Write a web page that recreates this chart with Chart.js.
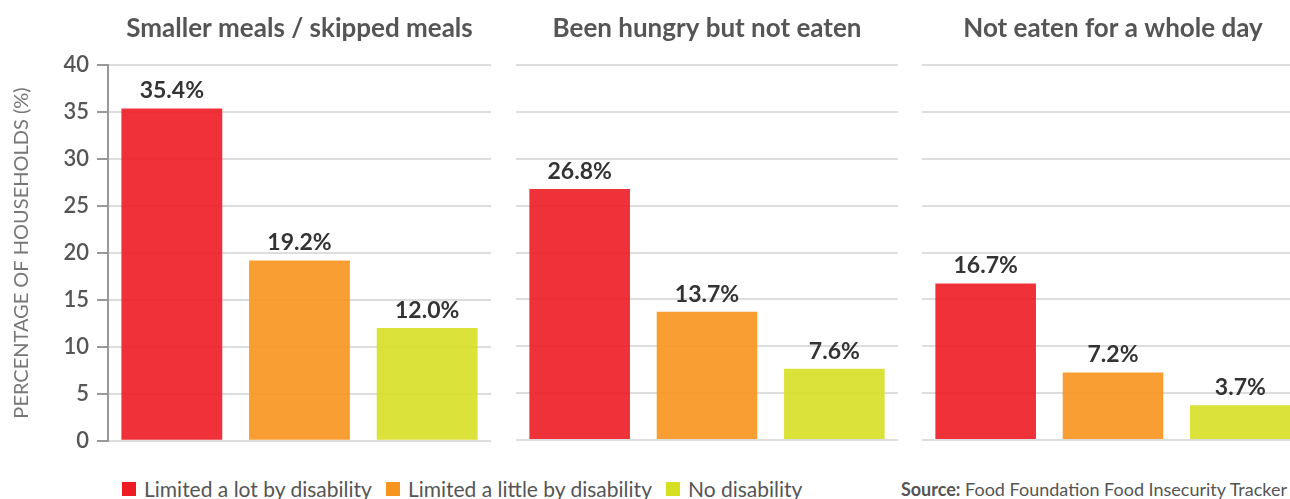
<!DOCTYPE html>
<html>
<head>
<meta charset="utf-8">
<script src="https://cdn.jsdelivr.net/npm/chart.js@4"></script>
<style>
  html, body { margin: 0; padding: 0; background: #fff; }
  body { width: 1290px; height: 499px; position: relative; overflow: hidden; font-family: Lato, sans-serif; }
  .panel { position: absolute; top: 0; height: 450px; }
  #legend { position: absolute; left: 122px; top: 476px; display: flex; gap: 14px; font-size: 21px; color: #555; }
  #legend span.item { display: flex; align-items: center; }
  #legend i { display: inline-block; width: 14px; height: 14px; margin-right: 8px; }
  #source { position: absolute; right: 3px; top: 478px; font-size: 18px; color: #555; }
</style>
</head>
<body>
<div class="panel" style="left:0;width:491px;height:462px"><canvas id="c0"></canvas></div>
<div class="panel" style="left:516px;width:382px"><canvas id="c1"></canvas></div>
<div class="panel" style="left:922px;width:382px"><canvas id="c2"></canvas></div>
<div id="legend"></div>
<div id="source"><b>Source:</b> Food Foundation Food Insecurity Tracker</div>
<script>
const panels = ["Smaller meals / skipped meals", "Been hungry but not eaten", "Not eaten for a whole day"];
const groups = ["Limited a lot by disability", "Limited a little by disability", "No disability"];
const limitedLot = [35.4, 26.8, 16.7];
const limitedLittle = [19.2, 13.7, 7.2];
const noDisability = [12.0, 7.6, 3.7];
const yTicks = [0, 5, 10, 15, 20, 25, 30, 35, 40];

const seriesValues = [limitedLot, limitedLittle, noDisability];
const barColors = ["rgba(237,28,36,0.9)", "rgba(247,148,29,0.9)", "rgba(215,223,35,0.9)"];
const swatchColors = ["#ED1C24", "#F7941D", "#D7DF23"];

const legend = document.getElementById("legend");
groups.forEach((g, i) => {
  legend.innerHTML += '<span class="item"><i style="background:' + swatchColors[i] + '"></i>' + g + '</span>';
});

const valueLabels = {
  id: "valueLabels",
  afterDatasetsDraw(chart) {
    const ctx = chart.ctx;
    ctx.save();
    ctx.font = "bold 23px Lato, sans-serif";
    ctx.fillStyle = "#333";
    ctx.textAlign = "center";
    ctx.textBaseline = "bottom";
    chart.data.datasets.forEach((ds, i) => {
      chart.getDatasetMeta(i).data.forEach((bar, j) => {
        ctx.fillText(ds.data[j].toFixed(1) + "%", bar.x, bar.y - 6);
      });
    });
    ctx.restore();
  }
};

panels.forEach((title, p) => {
  const first = p === 0;
  new Chart(document.getElementById("c" + p), {
    type: "bar",
    data: {
      labels: [title],
      datasets: groups.map((g, i) => ({
        label: g,
        data: [seriesValues[i][p]],
        backgroundColor: barColors[i],
        categoryPercentage: 1,
        barPercentage: 0.79,
      })),
    },
    options: {
      responsive: true,
      maintainAspectRatio: false,
      animation: false,
      layout: { padding: { bottom: 10 } },
      scales: {
        x: { display: false },
        y: {
          min: 0,
          max: 40,
          afterBuildTicks: (s) => { s.ticks = yTicks.map((v) => ({ value: v })); },
          afterFit: (s) => { s.width = first ? 108 : 0; },
          grid: {
            color: "#ddd",
            lineWidth: 2,
            tickColor: "#999",
            tickLength: 11,
            drawTicks: first,
          },
          border: { display: first, color: "#999", width: 2 },
          ticks: {
            display: first,
            color: "#555",
            padding: 8,
            font: { family: "Lato, sans-serif", size: 22, weight: "600" },
          },
          title: {
            display: first,
            text: "PERCENTAGE OF HOUSEHOLDS (%)",
            color: "#777",
            padding: { top: 10, bottom: 0 },
            font: { family: "Lato, sans-serif", size: 20, weight: "normal" },
          },
        },
      },
      plugins: {
        legend: { display: false },
        tooltip: { enabled: false },
        title: {
          display: true,
          text: title,
          fullSize: false,
          color: "#555",
          font: { family: "Lato, sans-serif", size: 26, weight: "bold" },
          padding: { top: 13, bottom: 21 },
        },
      },
    },
    plugins: [valueLabels],
  });
});
</script>
</body>
</html>
